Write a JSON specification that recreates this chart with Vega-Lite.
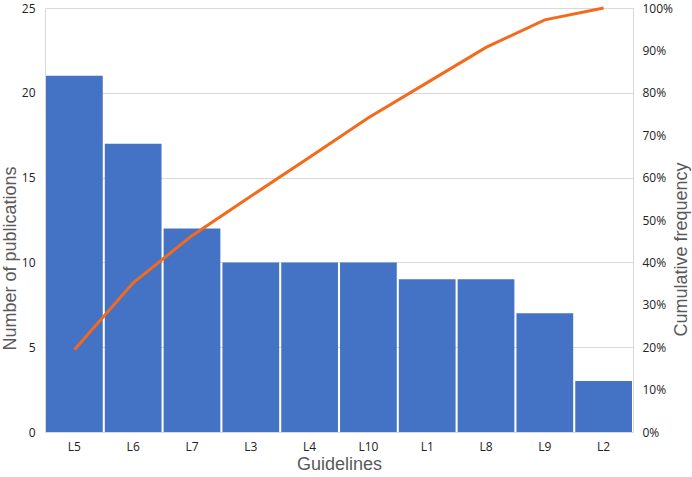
{
  "$schema": "https://vega.github.io/schema/vega-lite/v6.json",
  "width": 588,
  "height": 424,
  "autosize": {"type": "none"},
  "padding": {"left": 45, "top": 8, "right": 59, "bottom": 45},
  "background": "white",
  "config": {
    "view": {"stroke": "#d9d9d9"},
    "font": "Open Sans",
    "axis": {
      "labelFont": "Open Sans",
      "titleFont": "Liberation Sans",
      "labelColor": "#222222",
      "titleColor": "#595959",
      "labelFontSize": 12,
      "titleFontSize": 18,
      "titleFontWeight": "normal",
      "domain": false,
      "ticks": false
    }
  },
  "data": {
    "values": [
      {"g": "L5", "n": 21, "cum": 0.194},
      {"g": "L6", "n": 17, "cum": 0.352},
      {"g": "L7", "n": 12, "cum": 0.463},
      {"g": "L3", "n": 10, "cum": 0.556},
      {"g": "L4", "n": 10, "cum": 0.648},
      {"g": "L10", "n": 10, "cum": 0.741},
      {"g": "L1", "n": 9, "cum": 0.824},
      {"g": "L8", "n": 9, "cum": 0.907},
      {"g": "L9", "n": 7, "cum": 0.972},
      {"g": "L2", "n": 3, "cum": 1.0}
    ]
  },
  "encoding": {
    "x": {
      "field": "g",
      "type": "nominal",
      "sort": null,
      "scale": {"paddingInner": 0.035, "paddingOuter": 0.017},
      "axis": {"title": "Guidelines", "labelAngle": 0, "labelPadding": 9, "titlePadding": 3, "grid": false}
    }
  },
  "layer": [
    {
      "mark": {"type": "bar", "color": "#4472c4"},
      "encoding": {
        "y": {
          "field": "n",
          "type": "quantitative",
          "scale": {"domain": [0, 25]},
          "axis": {"title": "Number of publications", "values": [0, 5, 10, 15, 20, 25], "labelPadding": 10, "titlePadding": 2, "titleY": 250, "grid": true, "gridColor": "#d9d9d9"}
        }
      }
    },
    {
      "mark": {"type": "line", "color": "#f46a1c", "strokeWidth": 3},
      "encoding": {
        "y": {
          "field": "cum",
          "type": "quantitative",
          "scale": {"domain": [0, 1]},
          "axis": {"title": "Cumulative frequency", "orient": "right", "format": ".0%", "values": [0, 0.1, 0.2, 0.3, 0.4, 0.5, 0.6, 0.7, 0.8, 0.9, 1.0], "labelPadding": 9, "titlePadding": 18, "titleAngle": 270, "titleY": 241, "grid": false}
        }
      }
    }
  ],
  "resolve": {"scale": {"y": "independent"}}
}
